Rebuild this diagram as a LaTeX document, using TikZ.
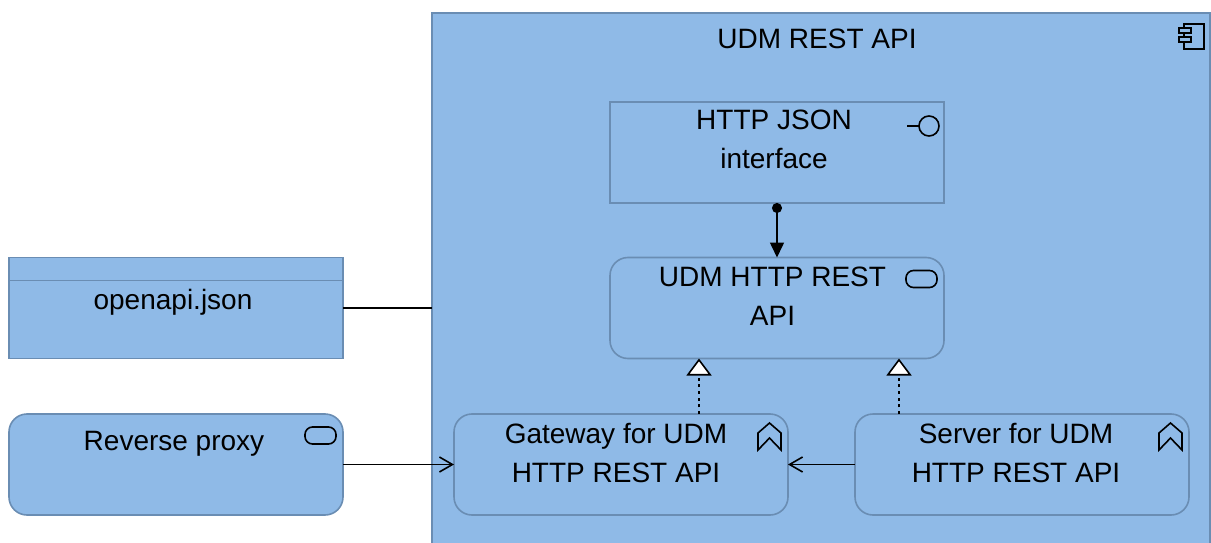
\documentclass[tikz,border=0pt]{standalone}
\usepackage{fontspec}
\setmainfont{Liberation Sans}
\usetikzlibrary{arrows.meta}
\definecolor{boxfill}{HTML}{8FBAE7}
\definecolor{boxline}{HTML}{6A8DB3}
\tikzset{>=latex}
\tikzstyle{box}=[draw=boxline,fill=boxfill,line width=1.6,minimum width=334,minimum height=101,inner sep=0,outer sep=0]
\tikzstyle{roundbox}=[box,rounded corners=18]
\tikzstyle{lbl}=[anchor=north,align=center,inner sep=0,font=\fontsize{28}{39}\selectfont,execute at begin node=\strut]
\tikzstyle{conn}=[black,line width=1.6]
\tikzstyle{serve}=[conn,-{Straight Barb[length=13,width=15,line width=1.6]}]
\tikzstyle{assign}=[conn,{Circle[length=10,width=10]}-{Triangle[length=15,width=14]}]
\tikzstyle{realize}=[conn,dash pattern=on 3 off 3.7,-{Triangle[open,fill=white,length=17,width=25]}]
\tikzset{
  icon/.style={black,line width=1.6},
  serviceicon/.pic={\draw[icon,rounded corners=7.5] (-38,13) rectangle (-7,30);},
  functionicon/.pic={\draw[icon,line join=miter] (-30,36) -- (-30,19) -- (-18.5,9) -- (-7,19) -- (-7,36) -- (-18.5,24) -- cycle;},
  interfaceicon/.pic={\draw[icon] (-37,24) -- (-25,24) (-15,24) circle (10);},
  componenticon/.pic={
    \draw[icon] (-26,11) rectangle (-6,36);
    \draw[icon,fill=boxfill] (-31,15) rectangle (-19,20);
    \draw[icon,fill=boxfill] (-31,24) rectangle (-19,29);
  }
}

\begin{document}
\begin{tikzpicture}[x=1pt,y=-1pt]
  \path[use as bounding box,clip] (0,0) rectangle (1211,543);

  % boxes
  \node[box,minimum width=778,minimum height=600] (main) at (821,313) {};
  \node[box] (iface) at (777,152.5) {};
  \node[roundbox] (rest) at (777,308) {};
  \node[roundbox] (gateway) at (621,464.5) {};
  \node[roundbox] (server) at (1022,464.5) {};
  \node[box] (openapi) at (176,308) {};
  \node[roundbox] (proxy) at (176,464.5) {};
  \draw[draw=boxline,line width=1.6] (openapi.north west)++(0,23) -- ++(334,0);

  % icons
  \pic at (main.north east) {componenticon};
  \pic at (iface.north east) {interfaceicon};
  \pic at (rest.north east) {serviceicon};
  \pic at (proxy.north east) {serviceicon};
  \foreach \fn in {gateway,server}{
    \pic at (\fn.north east) {functionicon};
  }

  % labels
  \node[lbl] (maintxt) at (817,20.7) {UDM REST API};
  \node[lbl] (ifacetxt) at (774,109.7) {HTTP JSON\\interface};
  \node[lbl] (resttxt) at (772.5,266.7) {UDM HTTP REST\\API};
  \node[lbl] (openapitxt) at (173,281.7) {openapi.json};
  \node[lbl] (proxytxt) at (174,422.7) {Reverse proxy};
  \node[lbl] (gatewaytxt) at (616,422.7) {Gateway for UDM\\HTTP REST API};
  \node[lbl] (servertxt) at (1016,422.7) {Server for UDM\\HTTP REST API};

  % connectors
  \coordinate (gatewayup) at (699,414);
  \coordinate (serverup) at (899,414);
  \draw[assign] (iface) -- (rest);
  \draw[realize] (gatewayup) -- (gatewayup |- rest.south);
  \draw[realize] (serverup) -- (serverup |- rest.south);
  \draw[conn] (openapi.east) -- (main.west |- openapi.east);
  \draw[serve] (proxy) -- (gateway);
  \draw[serve] (server) -- (gateway);
\end{tikzpicture}
\end{document}
